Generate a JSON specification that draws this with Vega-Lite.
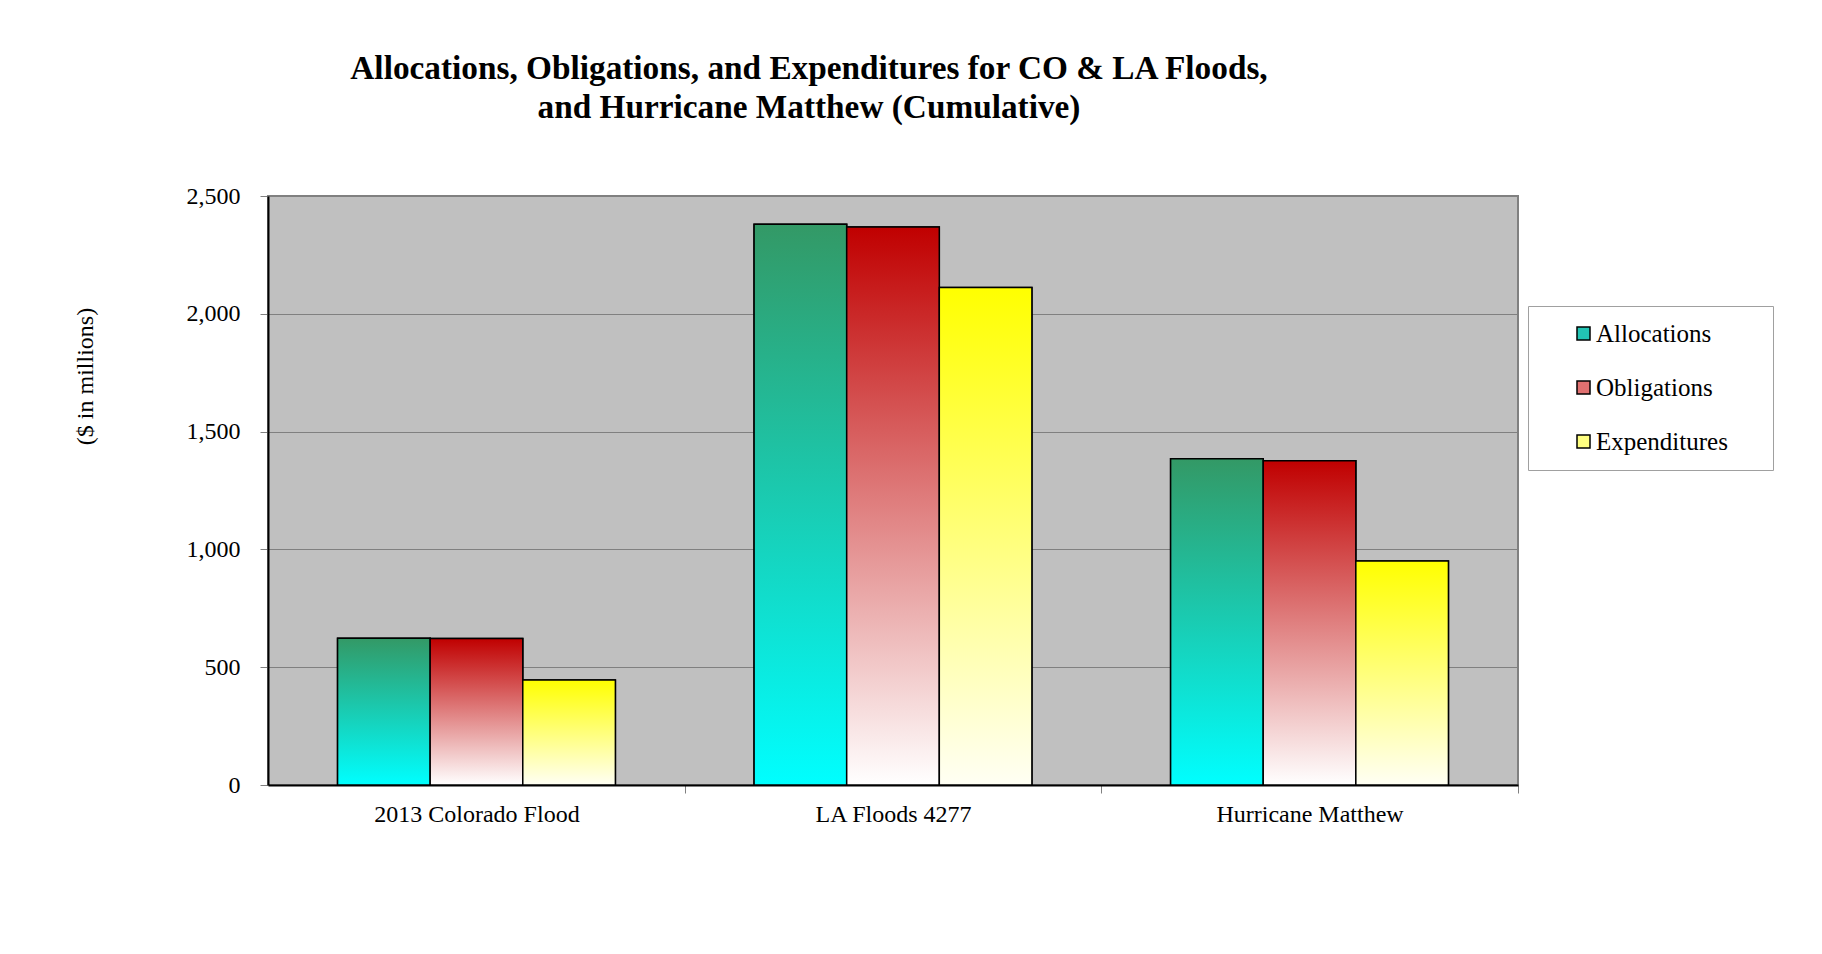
{
  "$schema": "https://vega.github.io/schema/vega-lite/v6.json",
  "width": 1250,
  "height": 589,
  "autosize": {"type": "none"},
  "padding": {"left": 268, "top": 196, "right": 304, "bottom": 169},
  "background": "white",
  "title": {
    "text": ["Allocations, Obligations, and Expenditures for CO & LA Floods,", "and Hurricane Matthew (Cumulative)"],
    "font": "Liberation Serif",
    "fontSize": 33.3,
    "fontWeight": "bold",
    "color": "black",
    "anchor": "middle",
    "dx": -84,
    "offset": 59,
    "lineHeight": 39
  },
  "data": {
    "values": [
      {"disaster": "2013 Colorado Flood", "measure": "Allocations", "value": 623},
      {"disaster": "2013 Colorado Flood", "measure": "Obligations", "value": 622},
      {"disaster": "2013 Colorado Flood", "measure": "Expenditures", "value": 446},
      {"disaster": "LA Floods 4277", "measure": "Allocations", "value": 2380},
      {"disaster": "LA Floods 4277", "measure": "Obligations", "value": 2368},
      {"disaster": "LA Floods 4277", "measure": "Expenditures", "value": 2112},
      {"disaster": "Hurricane Matthew", "measure": "Allocations", "value": 1385},
      {"disaster": "Hurricane Matthew", "measure": "Obligations", "value": 1376},
      {"disaster": "Hurricane Matthew", "measure": "Expenditures", "value": 951}
    ]
  },
  "encoding": {
    "x": {
      "field": "disaster",
      "type": "nominal",
      "sort": ["2013 Colorado Flood", "LA Floods 4277", "Hurricane Matthew"],
      "scale": {"paddingInner": 0.333, "paddingOuter": 0.167},
      "axis": {
        "title": null,
        "labelAngle": 0,
        "labelLimit": 0,
        "labelFont": "Liberation Serif",
        "labelFontSize": 24,
        "labelColor": "black",
        "labelPadding": 9,
        "tickSize": 8,
        "tickColor": "#808080",
        "tickOffset": 208.3,
        "labelOffset": -208.3,
        "domainColor": "black",
        "domainWidth": 2
      }
    },
    "xOffset": {
      "field": "measure",
      "type": "nominal",
      "sort": ["Allocations", "Obligations", "Expenditures"],
      "scale": {"domain": ["Allocations", "Obligations", "Expenditures"]}
    },
    "y": {
      "field": "value",
      "type": "quantitative",
      "scale": {"domain": [0, 2500], "nice": false},
      "axis": {
        "values": [0, 500, 1000, 1500, 2000, 2500],
        "format": ",.0f",
        "title": "($ in millions)",
        "titleFont": "Liberation Serif",
        "titleFontSize": 24,
        "titleFontWeight": "normal",
        "titleColor": "black",
        "titlePadding": 89,
        "titleY": 180,
        "labelFont": "Liberation Serif",
        "labelFontSize": 24,
        "labelColor": "black",
        "labelPadding": 20,
        "tickSize": 8,
        "tickColor": "#808080",
        "domainColor": "black",
        "domainWidth": 2,
        "grid": true,
        "gridColor": "#808080",
        "gridWidth": 1
      }
    }
  },
  "layer": [
    {
      "mark": {"type": "bar", "stroke": "black", "strokeWidth": 1.5},
      "encoding": {
        "fill": {
          "field": "measure",
          "type": "nominal",
          "scale": {
            "domain": ["Allocations", "Obligations", "Expenditures"],
            "range": ["#22C4B4", "#E07070", "#FFFF80"]
          },
          "legend": {
            "title": "\u00a0",
            "titleOrient": "right",
            "titlePadding": 30,
            "titleFontSize": 24,
            "orient": "none",
            "legendX": 1260,
            "legendY": 110,
            "fillColor": "white",
            "strokeColor": "#A0A0A0",
            "padding": 15,
            "symbolOffset": 28,
            "symbolType": "square",
            "symbolSize": 169,
            "symbolStrokeColor": "black",
            "symbolStrokeWidth": 1.5,
            "symbolOpacity": 1,
            "labelFont": "Liberation Serif",
            "labelFontSize": 25,
            "labelColor": "black",
            "labelOffset": 0,
            "rowPadding": 28
          }
        }
      }
    },
    {
      "mark": {"type": "bar", "stroke": "black", "strokeWidth": 1.5},
      "encoding": {
        "fill": {
          "condition": [
            {
              "test": "datum.measure === 'Allocations'",
              "value": {"gradient": "linear", "x1": 0, "y1": 0, "x2": 0, "y2": 1, "stops": [{"offset": 0, "color": "#339966"}, {"offset": 1, "color": "#00FFFF"}]}
            },
            {
              "test": "datum.measure === 'Obligations'",
              "value": {"gradient": "linear", "x1": 0, "y1": 0, "x2": 0, "y2": 1, "stops": [{"offset": 0, "color": "#C00000"}, {"offset": 1, "color": "#FFFFFF"}]}
            }
          ],
          "value": {"gradient": "linear", "x1": 0, "y1": 0, "x2": 0, "y2": 1, "stops": [{"offset": 0, "color": "#FFFF00"}, {"offset": 1, "color": "#FFFFF4"}]}
        }
      }
    }
  ],
  "config": {
    "view": {"fill": "#C0C0C0", "stroke": "#808080", "strokeWidth": 2}
  }
}
